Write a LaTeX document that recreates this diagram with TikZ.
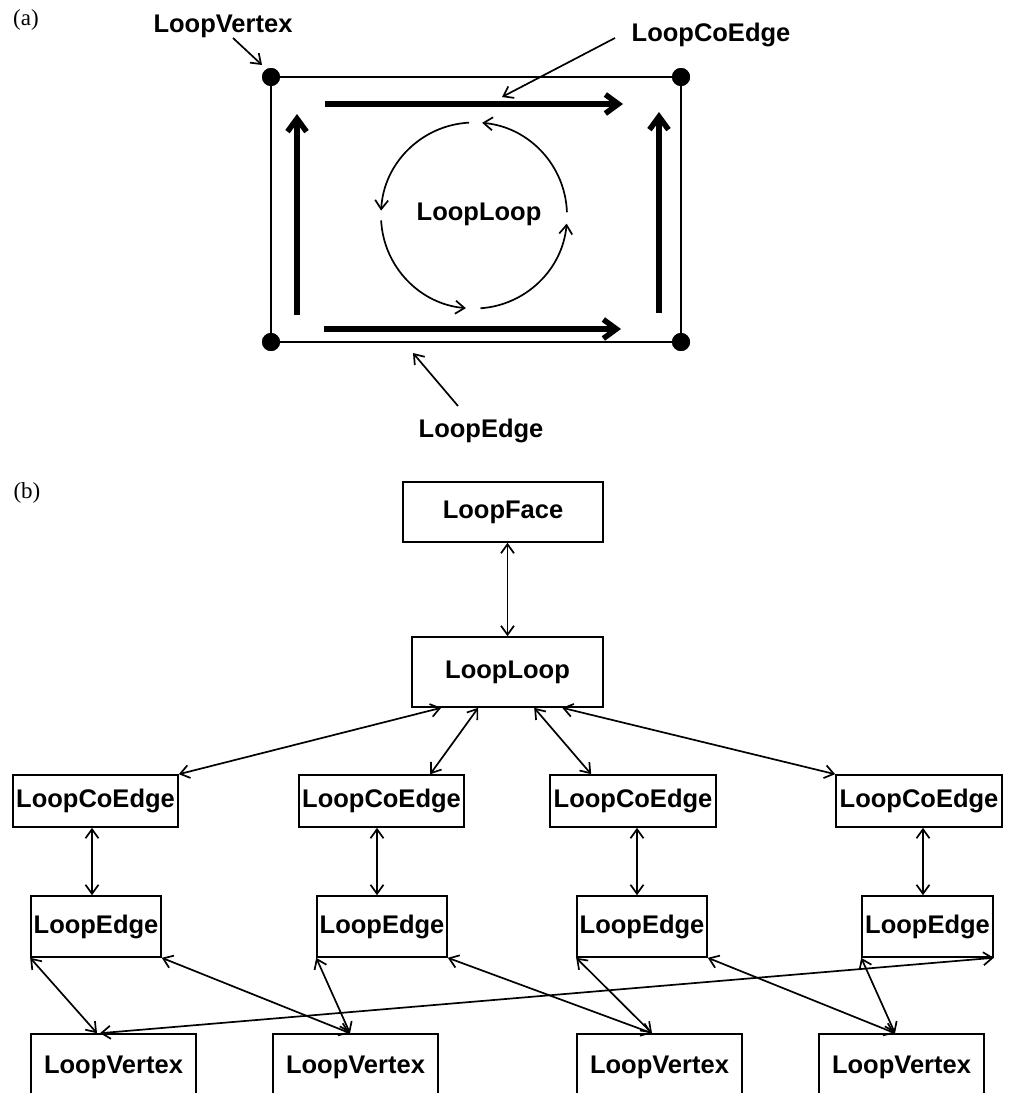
\documentclass[tikz,border=0pt]{standalone}
\usepackage{fontspec}
\newfontfamily\lsans{Liberation Sans}
\newfontfamily\lserif{Liberation Serif}
\usetikzlibrary{arrows.meta}
\begin{document}
\begin{tikzpicture}[x=1pt,y=-1pt,
  lbl/.style={font=\lsans\bfseries\fontsize{25.5}{30}\selectfont, inner sep=0pt},
  tag/.style={font=\lserif\fontsize{23}{27}\selectfont, inner sep=0pt},
  box/.style={draw, line width=1.6pt, inner sep=0pt, font=\lsans\bfseries\fontsize{25.5}{30}\selectfont},
  dot/.style={circle, fill, inner sep=0pt, minimum size=18pt},
  darr/.style={line width=1.7pt, {Straight Barb[length=9pt,width=13pt]}-{Straight Barb[length=9pt,width=13pt]}},
  sarr/.style={line width=1.7pt, -{Straight Barb[length=9pt,width=13pt]}},
  bigarr/.style={line width=5.5pt, -{Straight Barb[length=13pt,width=19pt]}},
  frame/.style={line width=2.6pt}
]
\useasboundingbox (0,0) rectangle (1011,1093);

% ---------- (a) ----------
\node[tag] (taga) at (26,20) {(a)};
\node[dot] (tl) at (271,77) {};
\node[dot] (tr) at (681,77) {};
\node[dot] (br) at (681,342) {};
\node[dot] (bl) at (271,342) {};
\draw[frame] (tl.center) -- (tr.center) -- (br.center) -- (bl.center) -- cycle;
\node[dot] at (tl) {};
\node[dot] at (tr) {};
\node[dot] at (br) {};
\node[dot] at (bl) {};

\coordinate (topA) at (325,104);  \coordinate (topB) at (623,104);
\coordinate (botA) at (324,329);  \coordinate (botB) at (621,329);
\coordinate (lefA) at (297,315);  \coordinate (lefB) at (297,114);
\coordinate (rigA) at (659,313);  \coordinate (rigB) at (659,112);
\draw[bigarr] (topA) -- (topB);
\draw[bigarr] (botA) -- (botB);
\draw[bigarr] (lefA) -- (lefB);
\draw[bigarr] (rigA) -- (rigB);

\node[lbl] (lvx) at (223,26) {LoopVertex};
\node[lbl] (lce) at (711,35) {LoopCoEdge};
\node[lbl] (lll) at (479,214) {LoopLoop};
\node[lbl] (led) at (481,431) {LoopEdge};
\coordinate (lvxA) at (233,38);  \coordinate (lvxB) at (262,65);
\coordinate (lceA) at (615,38);  \coordinate (lceB) at (502,97);
\coordinate (ledA) at (458,406); \coordinate (ledB) at (413,353);
\draw[sarr] (lvxA) -- (lvxB);
\draw[sarr] (lceA) -- (lceB);
\draw[sarr] (ledA) -- (ledB);

\coordinate (cc) at (474,215.5);
\draw[sarr] ([shift={(-2:93)}]cc) arc[start angle=-2,end angle=-85,radius=93];
\draw[sarr] ([shift={(-93:93)}]cc) arc[start angle=-93,end angle=-177,radius=93];
\draw[sarr] ([shift={(-183:93)}]cc) arc[start angle=-183,end angle=-265,radius=93];
\draw[sarr] ([shift={(-274:93)}]cc) arc[start angle=-274,end angle=-355,radius=93];

% ---------- (b) ----------
\node[tag] (tagb) at (27,493) {(b)};
\node[box, minimum width=200pt, minimum height=60pt] (face) at (503,512) {LoopFace};
\node[box, minimum width=191pt, minimum height=70pt] (loop) at (507.5,672) {LoopLoop};

\node[box, minimum width=165pt, minimum height=52pt] (ce1) at (95.5,801) {LoopCoEdge};
\node[box, minimum width=165pt, minimum height=52pt] (ce2) at (381.5,801) {LoopCoEdge};
\node[box, minimum width=166pt, minimum height=52pt] (ce3) at (633,801) {LoopCoEdge};
\node[box, minimum width=166pt, minimum height=52pt] (ce4) at (919,801) {LoopCoEdge};

\node[box, minimum width=130pt, minimum height=61pt] (ed1) at (96,926.5) {LoopEdge};
\node[box, minimum width=130pt, minimum height=61pt] (ed2) at (382,926.5) {LoopEdge};
\node[box, minimum width=130pt, minimum height=61pt] (ed3) at (642,926.5) {LoopEdge};
\node[box, minimum width=131pt, minimum height=61pt] (ed4) at (927.5,926.5) {LoopEdge};

\node[box, minimum width=165pt, minimum height=66pt] (vx1) at (113.5,1067) {LoopVertex};
\node[box, minimum width=165pt, minimum height=66pt] (vx2) at (355.5,1067) {LoopVertex};
\node[box, minimum width=165pt, minimum height=66pt] (vx3) at (659.5,1067) {LoopVertex};
\node[box, minimum width=165pt, minimum height=66pt] (vx4) at (901.5,1067) {LoopVertex};

\draw[darr] (face.south -| loop.north) -- (loop.north);

\draw[darr] ([xshift=30pt]loop.south west) -- (ce1.north east);
\draw[darr] ([xshift=67pt]loop.south west) -- ([xshift=132pt]ce2.north west);
\draw[darr] ([xshift=123pt]loop.south west) -- ([xshift=42pt]ce3.north west);
\draw[darr] ([xshift=151pt]loop.south west) -- (ce4.north west);

\draw[darr] ([xshift=-3.5pt]ce1.south) -- ([xshift=-3.5pt]ce1.south |- ed1.north);
\draw[darr] ([xshift=-4.5pt]ce2.south) -- ([xshift=-4.5pt]ce2.south |- ed2.north);
\draw[darr] ([xshift=4pt]ce3.south) -- ([xshift=4pt]ce3.south |- ed3.north);
\draw[darr] ([xshift=4pt]ce4.south) -- ([xshift=4pt]ce4.south |- ed4.north);

\draw[darr] (ed1.south west) -- ([xshift=-16.5pt]vx1.north);
\draw[darr] (ed1.south east) -- ([xshift=-5.5pt]vx2.north);
\draw[darr] (ed2.south west) -- ([xshift=-5.5pt]vx2.north);
\draw[darr] (ed2.south east) -- ([xshift=-7.5pt]vx3.north);
\draw[darr] (ed3.south west) -- ([xshift=-7.5pt]vx3.north);
\draw[darr] (ed3.south east) -- ([xshift=-6.5pt]vx4.north);
\draw[darr] (ed4.south west) -- ([xshift=-6.5pt]vx4.north);
\draw[darr] (ed4.south east) -- ([xshift=-13.5pt]vx1.north);
\end{tikzpicture}
\end{document}
